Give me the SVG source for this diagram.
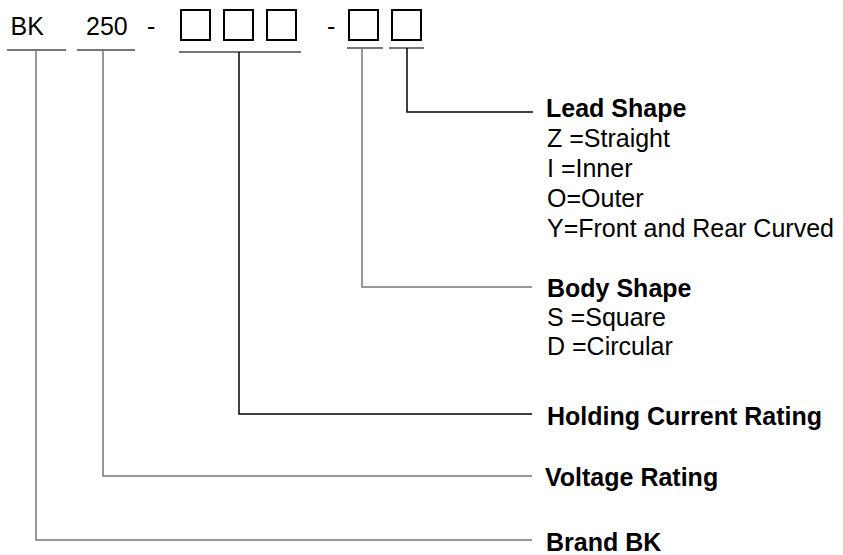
<svg xmlns="http://www.w3.org/2000/svg" width="843" height="555" viewBox="0 0 843 555">
<style>
text{font-family:"Liberation Sans",Arial,sans-serif;font-size:25px;fill:#000}
.b{font-weight:bold}
.box{fill:none;stroke:#000;stroke-width:2}
.ul{stroke:#777;stroke-width:2}
.v{stroke:#444;stroke-width:1;fill:none}
.hk{stroke:#000;stroke-width:1.5;fill:none}
.hg{stroke:#777;stroke-width:1.5;fill:none}
</style>
<rect width="843" height="555" fill="#fff"/>
<g id="code">
<text x="10.5" y="35">BK</text>
<text x="86" y="35">250</text>
<text x="147" y="35">-</text>
<text x="327" y="35">-</text>
<rect class="box" x="181" y="10" width="29" height="30"/>
<rect class="box" x="224" y="10" width="29" height="30"/>
<rect class="box" x="267" y="10" width="29" height="30"/>
<rect class="box" x="349" y="10" width="29" height="30"/>
<rect class="box" x="392" y="10" width="29" height="30"/>
<line class="ul" x1="7" y1="50" x2="66" y2="50"/>
<line class="ul" x1="77" y1="50" x2="135" y2="50"/>
<line class="ul" x1="179" y1="52" x2="301" y2="52"/>
<line class="ul" x1="347" y1="48" x2="383" y2="48"/>
<line class="ul" x1="389" y1="48" x2="424" y2="48"/>
</g>
<g id="connectors">
<polyline class="hk" points="407,48 407,112 533,112"/>
<polyline class="hg" points="362,48 362,287 532,287"/>
<polyline class="hk" points="239,52 239,414 532,414"/>
<polyline class="hg" points="103,50 103,476 532,476"/>
<polyline class="hg" points="36,50 36,540 532,540"/>
</g>
<g id="lead-shape">
<text class="b" x="546" y="117">Lead Shape</text>
<text x="547" y="147">Z =Straight</text>
<text x="547" y="177">I =Inner</text>
<text x="547" y="207">O=Outer</text>
<text x="547" y="237">Y=Front and Rear Curved</text>
</g>
<g id="body-shape">
<text class="b" x="547" y="297">Body Shape</text>
<text x="547" y="326">S =Square</text>
<text x="547" y="355">D =Circular</text>
</g>
<g id="holding-current">
<text class="b" x="547" y="425">Holding Current Rating</text>
</g>
<g id="voltage">
<text class="b" x="545" y="486">Voltage Rating</text>
</g>
<g id="brand">
<text class="b" x="546" y="551">Brand BK</text>
</g>
</svg>
